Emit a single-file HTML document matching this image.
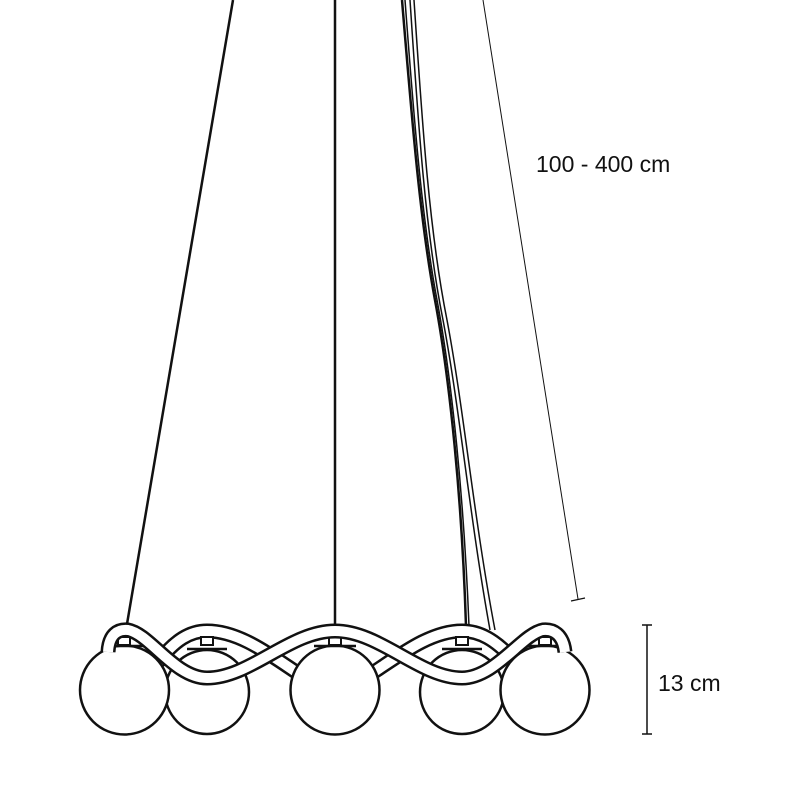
<!DOCTYPE html>
<html><head><style>
html,body{margin:0;padding:0;background:#fff;}
svg{display:block;}
text{font-family:"Liberation Sans",sans-serif;fill:#111;}
</style></head><body>
<svg width="800" height="800" viewBox="0 0 800 800" xmlns="http://www.w3.org/2000/svg">
<g fill="none" stroke="#111" stroke-linecap="butt">
  <!-- wires -->
  <line x1="233" y1="0" x2="127" y2="624" stroke-width="2.5"/>
  <line x1="335" y1="0" x2="335" y2="626" stroke-width="2.5"/>
  <path d="M402,0 C412,120 420,220 435,300 C450,380 462,500 466,626" stroke-width="2.5"/>
  <path d="M405,0 C414,120 422,220 437,300 C452,380 464,500 469,626" stroke-width="1.5"/>
  <path d="M410,0 C418,120 425,230 443,320 C460,410 470,520 490,630" stroke-width="1.5"/>
  <path d="M414,0 C422,120 429,230 447,320 C464,410 474,520 495,630" stroke-width="1.5"/>
  <!-- dimension line -->
  <line x1="483" y1="0" x2="578" y2="599" stroke-width="1"/>
  <line x1="571" y1="601" x2="585" y2="598" stroke-width="1.2"/>
  <line x1="647" y1="625" x2="647" y2="734" stroke-width="1.5"/>
  <line x1="642" y1="625" x2="652" y2="625" stroke-width="1.5"/>
  <line x1="642" y1="734" x2="652" y2="734" stroke-width="1.5"/>
  <!-- back tubes -->
  <path d="M158,662 C175,640 190,631 207,631 C240,631 270,655 302,676" stroke-width="15"/>
  <path d="M158,662 C175,640 190,631 207,631 C240,631 270,655 302,676" stroke="#fff" stroke-width="10"/>
  <path d="M368,676 C400,655 430,631 462,631 C480,631 495,640 512,658" stroke-width="15"/>
  <path d="M368,676 C400,655 430,631 462,631 C480,631 495,640 512,658" stroke="#fff" stroke-width="10"/>
  <!-- globes -->
  <g fill="#fff" stroke-width="2.5">
    <circle cx="207" cy="692" r="42"/>
    <circle cx="462" cy="692" r="42"/>
    <circle cx="124.5" cy="690" r="44.5"/>
    <circle cx="545" cy="690" r="44.5"/>
    <circle cx="335" cy="690" r="44.5"/>
  </g>
  <!-- caps -->
  <g fill="#fff" stroke-width="2">
    <rect x="118" y="637" width="12" height="8"/>
    <rect x="201" y="637" width="12" height="8"/>
    <rect x="329" y="637" width="12" height="8"/>
    <rect x="456" y="637" width="12" height="8"/>
    <rect x="539" y="637" width="12" height="8"/>
  </g>
  <g stroke-width="2.5">
    <line x1="104" y1="646" x2="145" y2="646"/>
    <line x1="187" y1="649" x2="227" y2="649"/>
    <line x1="314" y1="646" x2="356" y2="646"/>
    <line x1="442" y1="649" x2="482" y2="649"/>
    <line x1="524" y1="646" x2="566" y2="646"/>
  </g>
  <!-- front tube -->
  <path d="M108,652 C109,634 118,629 128,630 C150,634 175,678 207,678 C250,678 290,631 335,631 C380,631 420,678 462,678 C495,678 522,634 543,630 C553,629 563,634 565,652" stroke-width="15"/>
  <path d="M108,652 C109,634 118,629 128,630 C150,634 175,678 207,678 C250,678 290,631 335,631 C380,631 420,678 462,678 C495,678 522,634 543,630 C553,629 563,634 565,652" stroke="#fff" stroke-width="10"/>
</g>
<text x="536" y="172" font-size="23">100 - 400 cm</text>
<text x="658" y="691" font-size="23">13 cm</text>
</svg>
</body></html>
